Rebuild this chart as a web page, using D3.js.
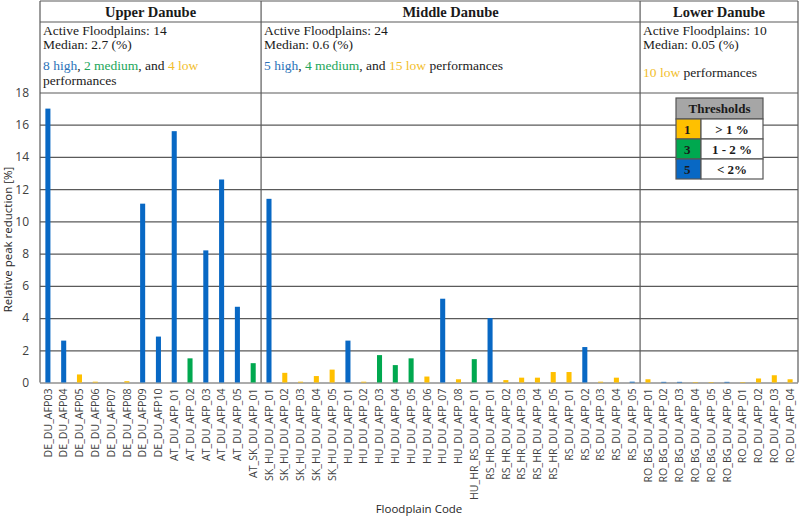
<!DOCTYPE html>
<html>
<head>
<meta charset="utf-8">
<script src="https://cdn.jsdelivr.net/npm/d3@7"></script>
<style>
  body { margin: 0; background: #fff; }
  svg { display: block; }
  .tick text { font-family: "Open Sans", sans-serif; fill: #404040; }
  .hdr { font-family: "Liberation Serif", serif; fill: #1a1a1a; }
</style>
</head>
<body>
<svg id="svg" width="800" height="522"></svg>
<script>
// floodplain codes, in plot order
const codes = [
  "DE_DU_AFP03","DE_DU_AFP04","DE_DU_AFP05","DE_DU_AFP06","DE_DU_AFP07","DE_DU_AFP08","DE_DU_AFP09","DE_DU_AFP10",
  "AT_DU_AFP_01","AT_DU_AFP_02","AT_DU_AFP_03","AT_DU_AFP_04","AT_DU_AFP_05","AT_SK_DU_AFP_01",
  "SK_HU_DU_AFP_01","SK_HU_DU_AFP_02","SK_HU_DU_AFP_03","SK_HU_DU_AFP_04","SK_HU_DU_AFP_05",
  "HU_DU_AFP_01","HU_DU_AFP_02","HU_DU_AFP_03","HU_DU_AFP_04","HU_DU_AFP_05","HU_DU_AFP_06","HU_DU_AFP_07","HU_DU_AFP_08",
  "HU_HR_RS_DU_AFP_01","RS_HR_DU_AFP_01","RS_HR_DU_AFP_02","RS_HR_DU_AFP_03","RS_HR_DU_AFP_04","RS_HR_DU_AFP_05",
  "RS_DU_AFP_01","RS_DU_AFP_02","RS_DU_AFP_03","RS_DU_AFP_04","RS_DU_AFP_05",
  "RO_BG_DU_AFP_01","RO_BG_DU_AFP_02","RO_BG_DU_AFP_03","RO_BG_DU_AFP_04","RO_BG_DU_AFP_05","RO_BG_DU_AFP_06",
  "RO_DU_AFP_01","RO_DU_AFP_02","RO_DU_AFP_03","RO_DU_AFP_04"
];
// relative peak reduction [%]
const values = [
  17.0, 2.6, 0.5, 0.05, 0, 0.08, 11.1, 2.85,
  15.6, 1.5, 8.2, 12.6, 4.7, 1.2,
  11.4, 0.6, 0.05, 0.4, 0.8,
  2.6, 0.05, 1.7, 1.08, 1.5, 0.37, 5.2, 0.2,
  1.45, 4.0, 0.15, 0.3, 0.3, 0.65,
  0.65, 2.2, 0.05, 0.3, 0.05,
  0.2, 0.04, 0.04, 0.03, 0.03, 0.04,
  0.03, 0.25, 0.45, 0.2
];
// threshold class of each bar (1 low, 3 medium, 5 high)
const classes = [
  5,5,1,1,1,1,5,5,
  5,3,5,5,5,3,
  5,1,1,1,1,
  5,1,3,3,3,1,5,1,
  3,5,1,1,1,1,
  1,5,1,1,5,
  1,5,5,1,1,5,
  1,1,1,1
];

const regionNames = ["Upper Danube","Middle Danube","Lower Danube"];
const regionSizes = [14, 24, 10];
const regionMedians = ["2.7","0.6","0.05"];
const regionHigh = [8, 5, 0];
const regionMedium = [2, 4, 0];
const regionLow = [4, 15, 10];

const thresholdClass = [1, 3, 5];
const thresholdLabel = ["> 1 %", "1 - 2 %", "< 2%"];
const yTicks = [0,2,4,6,8,10,12,14,16,18];

const colorOf = {1: "#FFC000", 3: "#00A84F", 5: "#0868C4"};
const textColorOf = {1: "#F2BE2C", 3: "#1BA65A", 5: "#2B72B8"};

const svg = d3.select("#svg");
const margin = {top: 93, right: 2, bottom: 140, left: 40};
const width = 800, height = 522;

const x = d3.scaleBand()
  .domain(codes)
  .range([margin.left, width - margin.right])
  .paddingInner(0.68)
  .paddingOuter(0.34);

const y = d3.scaleLinear()
  .domain([0, 18])
  .range([height - margin.bottom + 0.5, margin.top - 0.5]);

// gridlines + y labels
const yAxis = g => g
  .attr("transform", `translate(${margin.left},0)`)
  .call(d3.axisLeft(y).tickValues(yTicks).tickSize(-(width - margin.left - margin.right)).tickPadding(11))
  .call(g => g.select(".domain").remove())
  .call(g => g.selectAll(".tick line").attr("stroke", "#5a5a5a").attr("stroke-width", 1.2))
  .call(g => g.selectAll(".tick text").attr("font-size", 12));
svg.append("g").call(yAxis);

// x labels
const xAxis = g => g
  .attr("transform", `translate(0,${y(0)})`)
  .call(d3.axisBottom(x).tickSize(0).tickPadding(0))
  .call(g => g.select(".domain").remove())
  .call(g => g.selectAll(".tick text")
    .attr("font-size", 10.6)
    .attr("transform", "rotate(-90)")
    .attr("text-anchor", "end")
    .attr("dy", "0.35em")
    .attr("x", -6)
    .attr("y", 0));
svg.append("g").call(xAxis);

// bars
svg.selectAll(".bar")
  .data(codes)
  .enter()
  .append("rect")
  .attr("class", "bar")
  .attr("x", d => x(d))
  .attr("width", x.bandwidth())
  .attr("y", (d, i) => y(values[i]))
  .attr("height", (d, i) => y(0) - y(values[i]))
  .attr("fill", (d, i) => colorOf[classes[i]]);

// region boxes: header lines and dividers
let start = 0;
const bounds = regionSizes.map(n => {
  const b = [start, start + n];
  start += n;
  return b;
});
const step = x.step();
const xEdge = k => margin.left + k * step;

svg.append("line")
  .attr("x1", margin.left).attr("x2", width - margin.right)
  .attr("y1", 1).attr("y2", 1)
  .attr("stroke", "#5a5a5a").attr("stroke-width", 1.2);
svg.append("line")
  .attr("x1", margin.left).attr("x2", width - margin.right)
  .attr("y1", 22).attr("y2", 22)
  .attr("stroke", "#5a5a5a").attr("stroke-width", 1.2);

const edges = [0].concat(bounds.map(b => b[1]));
svg.selectAll(".divider")
  .data(edges)
  .enter()
  .append("line")
  .attr("class", "divider")
  .attr("x1", d => Math.min(xEdge(d), width - margin.right))
  .attr("x2", d => Math.min(xEdge(d), width - margin.right))
  .attr("y1", 1).attr("y2", y(0))
  .attr("stroke", "#5a5a5a").attr("stroke-width", 1.2);

regionNames.forEach((name, r) => {
  const x0 = xEdge(bounds[r][0]);
  const x1 = xEdge(bounds[r][1]);
  const tx = x0 + 3;

  svg.append("text").attr("class", "hdr")
    .attr("x", (x0 + x1) / 2).attr("y", 17)
    .attr("text-anchor", "middle")
    .attr("font-size", 14.5).attr("font-weight", "bold")
    .text(name);

  svg.append("text").attr("class", "hdr")
    .attr("x", tx).attr("y", 35).attr("font-size", 13.5)
    .text("Active Floodplains: " + regionSizes[r]);
  svg.append("text").attr("class", "hdr")
    .attr("x", tx).attr("y", 49).attr("font-size", 13.5)
    .text("Median: " + regionMedians[r] + " (%)");

  const perf = svg.append("text").attr("class", "hdr")
    .attr("x", tx).attr("y", r === 2 ? 77 : 70).attr("font-size", 13.5);
  if (regionHigh[r] > 0) {
    perf.append("tspan").attr("fill", textColorOf[5]).text(regionHigh[r] + " high");
    perf.append("tspan").text(", ");
    perf.append("tspan").attr("fill", textColorOf[3]).text(regionMedium[r] + " medium");
    perf.append("tspan").text(", and ");
  }
  perf.append("tspan").attr("fill", textColorOf[1]).text(regionLow[r] + " low");
  if (r === 0) {
    svg.append("text").attr("class", "hdr")
      .attr("x", tx).attr("y", 85).attr("font-size", 13.5)
      .text("performances");
  } else {
    perf.append("tspan").text(" performances");
  }
});

// thresholds table
const lg = {x: 676, y: 98, w: 87, cw: 25, hh: 21, rh: 20};
const legend = svg.append("g");
legend.append("rect")
  .attr("x", lg.x).attr("y", lg.y).attr("width", lg.w).attr("height", lg.hh)
  .attr("fill", "#A6A6A6").attr("stroke", "#555").attr("stroke-width", 1.2);
legend.append("text").attr("class", "hdr")
  .attr("x", lg.x + lg.w / 2).attr("y", lg.y + 15)
  .attr("text-anchor", "middle").attr("font-size", 13).attr("font-weight", "bold")
  .text("Thresholds");

const rows = legend.selectAll(".lrow")
  .data(thresholdClass)
  .enter()
  .append("g")
  .attr("transform", (d, i) => `translate(${lg.x},${lg.y + lg.hh + i * lg.rh})`);
rows.append("rect")
  .attr("width", lg.cw).attr("height", lg.rh)
  .attr("fill", d => colorOf[d]).attr("stroke", "#555").attr("stroke-width", 1.2);
rows.append("rect")
  .attr("x", lg.cw).attr("width", lg.w - lg.cw).attr("height", lg.rh)
  .attr("fill", "#fff").attr("stroke", "#555").attr("stroke-width", 1.2);
rows.append("text").attr("class", "hdr")
  .attr("x", 8).attr("y", 15).attr("font-size", 13).attr("font-weight", "bold")
  .attr("fill", "#333")
  .text(d => d);
rows.append("text").attr("class", "hdr")
  .attr("x", lg.cw + (lg.w - lg.cw) / 2).attr("y", 15)
  .attr("text-anchor", "middle").attr("font-size", 13).attr("font-weight", "bold")
  .text((d, i) => thresholdLabel[i]);

// axis titles
svg.append("text")
  .attr("transform", `translate(12,${(y(0) + y(18)) / 2 + 2}) rotate(-90)`)
  .attr("text-anchor", "middle")
  .attr("font-family", "Open Sans, sans-serif").attr("font-size", 11.5).attr("fill", "#262626")
  .text("Relative peak reduction [%]");
svg.append("text")
  .attr("x", (margin.left + width - margin.right) / 2).attr("y", 513)
  .attr("text-anchor", "middle")
  .attr("font-family", "Open Sans, sans-serif").attr("font-size", 11.5).attr("fill", "#262626")
  .text("Floodplain Code");
</script>
</body>
</html>
